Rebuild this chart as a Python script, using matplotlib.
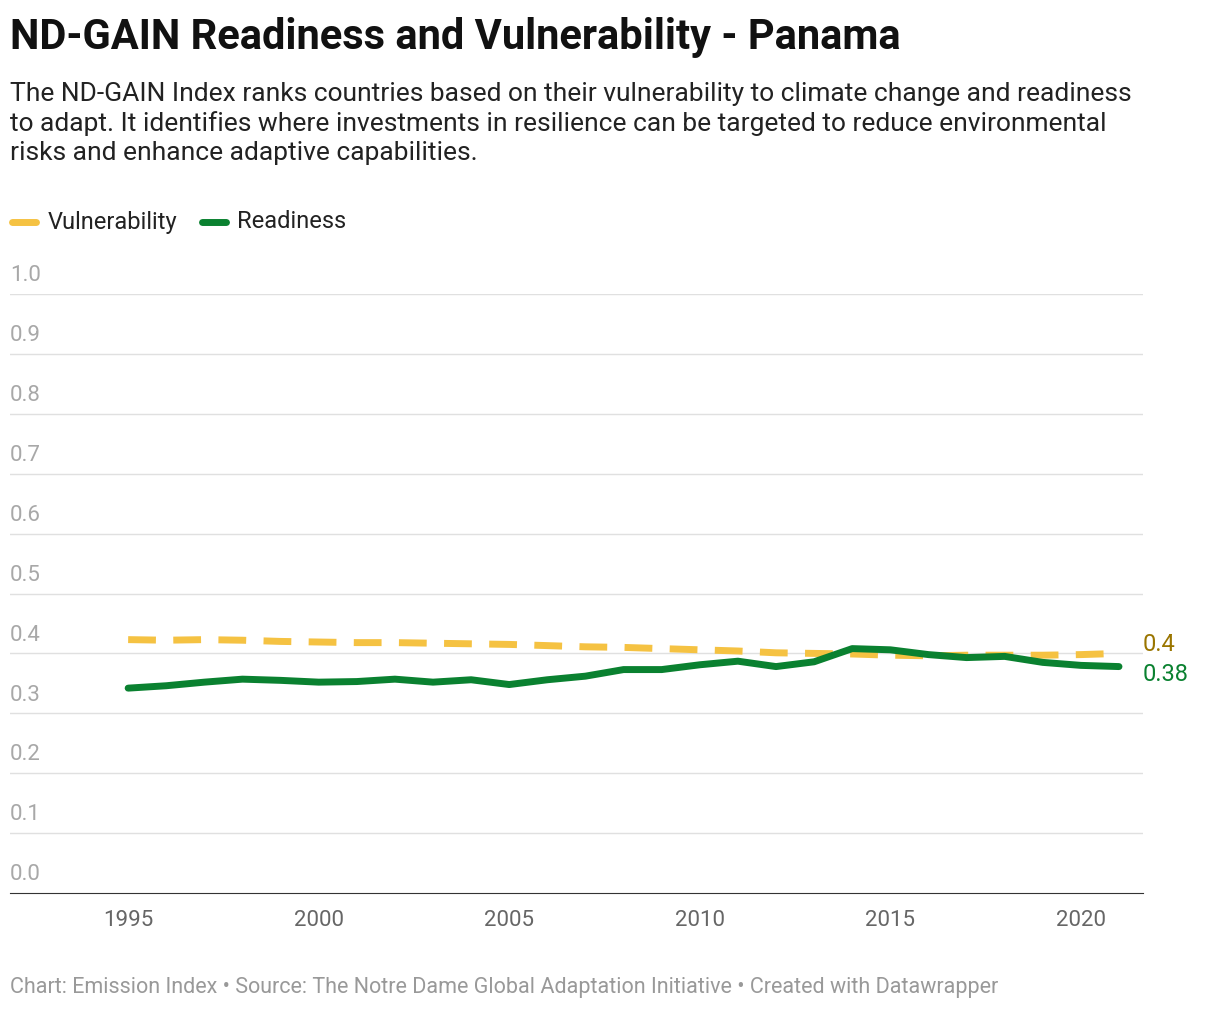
import matplotlib.pyplot as plt
import numpy as np

plt.rcParams['font.family'] = ['Roboto', 'DejaVu Sans']

years = list(range(1995, 2022))
readiness = [0.342, 0.346, 0.352, 0.357, 0.355, 0.352, 0.353, 0.357, 0.352, 0.356,
             0.348, 0.356, 0.362, 0.373, 0.373, 0.381, 0.387, 0.378, 0.386, 0.408,
             0.406, 0.398, 0.393, 0.395, 0.385, 0.380, 0.378]
vulnerability = [0.423, 0.422, 0.423, 0.422, 0.420, 0.419, 0.418, 0.418, 0.417, 0.416,
                 0.415, 0.413, 0.411, 0.410, 0.408, 0.406, 0.404, 0.401, 0.400, 0.399,
                 0.397, 0.396, 0.397, 0.397, 0.397, 0.398, 0.400]
yticks = [0.0, 0.1, 0.2, 0.3, 0.4, 0.5, 0.6, 0.7, 0.8, 0.9, 1.0]

W, H = 1220, 1010
fig = plt.figure(figsize=(W / 100, H / 100), dpi=100)
ax = fig.add_axes([10 / W, 1 - 893 / H, (1143 - 10) / W, (893 - 294) / H])

yellow = '#f5c242'
green = '#0a8130'
ax.plot(years, vulnerability, color=yellow, lw=5, dashes=(4, 2.5), solid_capstyle='round')
ax.plot(years, readiness, color=green, lw=5, solid_capstyle='round')

ax.set_xlim(1991.9, 2021.63)
ax.set_ylim(0, 1.0)
for v in yticks:
    if v > 0:
        ax.axhline(v, color='#e0e0e0', lw=1, zorder=0)
    ax.text(0, v + 0.013, f"{v:.1f}", transform=ax.get_yaxis_transform(),
            va='bottom', ha='left', fontsize=16, color='#a8a8a8')
ax.set_yticks([])
ax.set_xticks([1995, 2000, 2005, 2010, 2015, 2020])
ax.tick_params(axis='x', length=0, labelsize=16, labelcolor='#666666', pad=12)
for s in ['top', 'right', 'left']:
    ax.spines[s].set_visible(False)
ax.spines['bottom'].set_color('#333333')

ax.text(1.0, vulnerability[-1] + 0.015, "0.4", color='#9a7500', fontsize=17,
        va='center', transform=ax.get_yaxis_transform(), clip_on=False)
ax.text(1.0, readiness[-1] - 0.013, "0.38", color=green, fontsize=17,
        va='center', transform=ax.get_yaxis_transform(), clip_on=False)

fig.text(10 / W, 1 - 37 / H, "ND-GAIN Readiness and Vulnerability - Panama",
         fontsize=30, fontweight='bold', va='center', color='#111111')
fig.text(10 / W, 1 - 82 / H,
         "The ND-GAIN Index ranks countries based on their vulnerability to climate change and readiness\n"
         "to adapt. It identifies where investments in resilience can be targeted to reduce environmental\n"
         "risks and enhance adaptive capabilities.",
         fontsize=19, va='top', color='#222222', linespacing=1.25)

fig.lines.append(plt.Line2D([12 / W, 36 / W], [1 - 222 / H] * 2, color=yellow, lw=5,
                            transform=fig.transFigure, solid_capstyle='round'))
fig.text(48 / W, 1 - 222 / H, "Vulnerability", fontsize=17, va='center', color='#222222')
fig.lines.append(plt.Line2D([202 / W, 226 / W], [1 - 222 / H] * 2, color=green, lw=5,
                            transform=fig.transFigure, solid_capstyle='round'))
fig.text(237 / W, 1 - 222 / H, "Readiness", fontsize=17, va='center', color='#222222')

fig.text(10 / W, 1 - 987 / H,
         "Chart: Emission Index \u2022 Source: The Notre Dame Global Adaptation Initiative \u2022 Created with Datawrapper",
         fontsize=15.5, va='center', color='#999999')

fig.savefig("out.png", dpi=100)
